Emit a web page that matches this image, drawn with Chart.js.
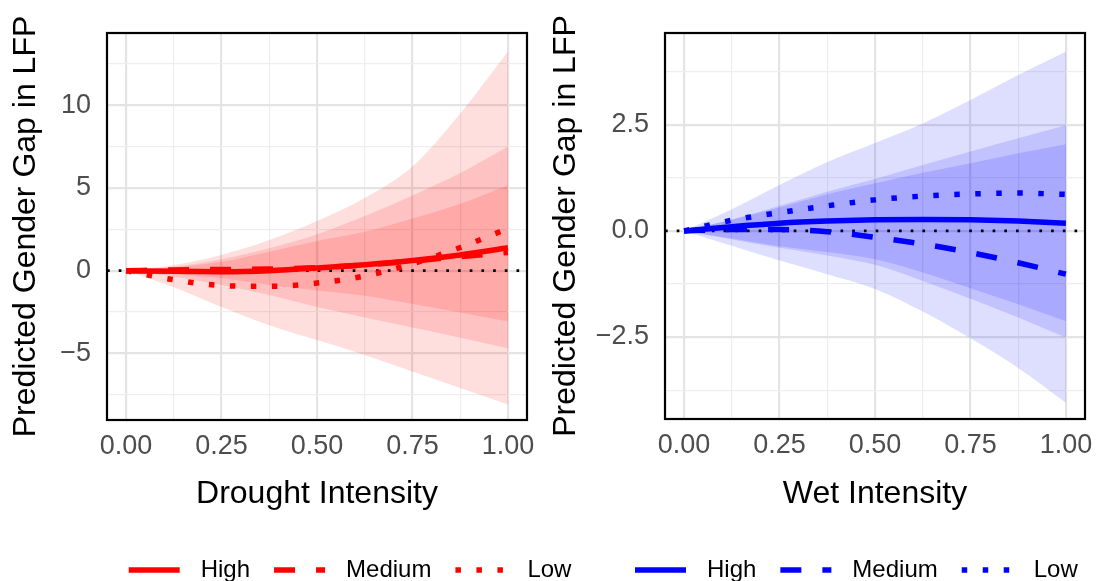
<!DOCTYPE html>
<html>
<head>
<meta charset="utf-8">
<script src="https://cdn.jsdelivr.net/npm/chart.js@4/dist/chart.umd.min.js"></script>
<style>
  html, body { margin: 0; padding: 0; background: #fff; }
  #wrap { position: relative; width: 1096px; height: 581px; overflow: hidden; }
  .panel { position: absolute; top: 0; height: 581px; }
</style>
</head>
<body>
<div id="wrap">
  <!-- left canvas is a bit wider so its legend can run past the middle -->
  <div class="panel" style="left:0;width:600px"><canvas id="drought" width="600" height="581"></canvas></div>
  <div class="panel" style="left:548px;width:548px"><canvas id="wet" width="548" height="581"></canvas></div>
</div>
<script>
// x positions shared by both panels
const xs = [0, 0.125, 0.25, 0.375, 0.5, 0.625, 0.75, 0.875, 1];
const xLimits = [-0.05, 1.05];
const xGrid = [0, 0.125, 0.25, 0.375, 0.5, 0.625, 0.75, 0.875, 1];
const xMajor = [0, 0.25, 0.5, 0.75, 1];
const xLabels = ["0.00", "0.25", "0.50", "0.75", "1.00"];

// Drought panel - predictions
const dHigh = [0, -0.04, -0.06, 0.0, 0.16, 0.36, 0.61, 0.95, 1.38];
const dMedium = [0, 0.04, 0.07, 0.1, 0.18, 0.35, 0.58, 0.85, 1.1];
const dLow = [0, -0.55, -0.9, -0.95, -0.75, -0.32, 0.42, 1.4, 2.55];
// Drought panel - confidence bands (outer / middle / inner)
const dOuterUp = [0, 0.34, 0.95, 1.85, 3.0, 4.4, 6.3, 9.5, 13.25];
const dOuterLo = [0, -1.0, -2.2, -3.3, -4.2, -5.1, -6.1, -7.1, -8.1];
const dMidUp = [0, 0.24, 0.69, 1.35, 2.2, 3.3, 4.55, 5.9, 7.5];
const dMidLo = [0, -0.36, -0.87, -1.47, -2.2, -2.83, -3.44, -4.05, -4.7];
const dInnerUp = [0, 0.2, 0.54, 1.15, 1.8, 2.35, 3.15, 4.05, 5.15];
const dInnerLo = [0, -0.2, -0.46, -0.87, -1.2, -1.52, -2.02, -2.53, -3.08];
const dYLimits = [-9.03, 14.37];
const dYGrid = [-7.5, -5, -2.5, 0, 2.5, 5, 7.5, 10, 12.5];
const dYMajor = [-5, 0, 5, 10];
const dYLabels = ["\u22125", "0", "5", "10"];

// Wet panel - predictions
const wHigh = [0, 0.1, 0.18, 0.23, 0.26, 0.27, 0.26, 0.23, 0.18];
const wMedium = [0, 0.03, 0.03, -0.02, -0.15, -0.31, -0.51, -0.75, -1.02];
const wLow = [0, 0.25, 0.43, 0.59, 0.73, 0.82, 0.87, 0.89, 0.86];
// Wet panel - confidence bands
const wOuterUp = [0, 0.51, 1.08, 1.62, 2.07, 2.53, 3.08, 3.67, 4.22];
const wOuterLo = [0, -0.35, -0.7, -1.02, -1.37, -1.9, -2.53, -3.23, -4.05];
const wMidUp = [0, 0.27, 0.59, 0.92, 1.22, 1.55, 1.87, 2.18, 2.49];
const wMidLo = [0, -0.2, -0.4, -0.58, -0.8, -1.18, -1.6, -2.04, -2.51];
const wInnerUp = [0, 0.26, 0.55, 0.86, 1.12, 1.37, 1.59, 1.83, 2.04];
const wInnerLo = [0, -0.18, -0.36, -0.5, -0.67, -0.98, -1.35, -1.73, -2.13];
const wYLimits = [-4.43, 4.66];
const wYGrid = [-3.75, -2.5, -1.25, 0, 1.25, 2.5, 3.75];
const wYMajor = [-2.5, 0, 2.5];
const wYLabels = ["\u22122.5", "0.0", "2.5"];

const seriesNames = ["High", "Medium", "Low"];

const FONT = "'Liberation Sans', Arial, sans-serif";
const pts = (ys) => xs.map((x, i) => ({ x: x, y: ys[i] }));

function bandSets(up, lo, fillColor) {
  return [
    { data: pts(up), borderWidth: 0, pointRadius: 0, fill: "+1", backgroundColor: fillColor, order: 3 },
    { data: pts(lo), borderWidth: 0, pointRadius: 0, fill: false, order: 3 },
  ];
}

function lineSet(label, ys, color, dash) {
  return {
    label: label,
    data: pts(ys),
    borderColor: color,
    borderWidth: 5.5,
    borderDash: dash,
    borderCapStyle: "butt",
    pointRadius: 0,
    fill: false,
    order: 1,
  };
}

// outer frame of the panel (ggplot panel.border)
const frame = {
  id: "frame",
  afterDraw(chart) {
    const a = chart.chartArea;
    const ctx = chart.ctx;
    ctx.save();
    ctx.strokeStyle = "#000";
    ctx.lineWidth = 2.2;
    ctx.strokeRect(a.left, a.top, a.right - a.left, a.bottom - a.top);
    ctx.restore();
  },
};

// legend drawn from the line datasets
const lineLegend = {
  id: "lineLegend",
  afterDraw(chart, args, opts) {
    const ctx = chart.ctx;
    let x = opts.x;
    const y = opts.y;
    ctx.save();
    ctx.font = "24px " + FONT;
    ctx.textBaseline = "middle";
    chart.data.datasets.filter((d) => d.label).forEach((d) => {
      ctx.beginPath();
      ctx.strokeStyle = d.borderColor;
      ctx.lineWidth = d.borderWidth;
      ctx.lineCap = "butt";
      ctx.setLineDash(d.borderDash || []);
      ctx.moveTo(x, y);
      ctx.lineTo(x + 51, y);
      ctx.stroke();
      ctx.setLineDash([]);
      ctx.fillStyle = "#000";
      ctx.fillText(d.label, x + 72, y);
      x += 72 + ctx.measureText(d.label).width + 24;
    });
    ctx.restore();
  },
};

function makeChart(id, p) {
  const datasets = [
    ...bandSets(p.outer[0], p.outer[1], p.fill),
    ...bandSets(p.mid[0], p.mid[1], p.fill),
    ...bandSets(p.inner[0], p.inner[1], p.fill),
    {
      data: [{ x: xLimits[0], y: 0 }, { x: xLimits[1], y: 0 }],
      borderColor: "#000",
      borderWidth: 2.7,
      borderDash: [2.7, 9],
      pointRadius: 0,
      fill: false,
      order: 2,
    },
    lineSet(seriesNames[0], p.lines[0], p.color, []),
    lineSet(seriesNames[1], p.lines[1], p.color, [21, 21]),
    lineSet(seriesNames[2], p.lines[2], p.color, [5.5, 15.5]),
  ];

  return new Chart(document.getElementById(id), {
    type: "line",
    data: { datasets: datasets },
    plugins: [frame, lineLegend],
    options: {
      responsive: false,
      animation: false,
      elements: { line: { cubicInterpolationMode: "monotone" } },
      layout: { padding: { left: 0, right: p.padRight, top: 33, bottom: 0 } },
      plugins: {
        legend: { display: false },
        tooltip: { enabled: false },
        lineLegend: { x: p.legendX, y: 570 },
      },
      scales: {
        x: {
          type: "linear",
          min: xLimits[0],
          max: xLimits[1],
          afterBuildTicks: (s) => { s.ticks = xGrid.map((v) => ({ value: v })); },
          afterFit: (s) => {
            s.height = p.xAxisHeight;
            // keep the plot edges fixed, labels may overhang
            s.paddingLeft = 0;
            s.paddingRight = 0;
          },
          ticks: {
            autoSkip: false,
            maxRotation: 0,
            padding: 10,
            color: "#4D4D4D",
            font: { family: FONT, size: 27 },
            callback: (v) => {
              const i = xMajor.indexOf(v);
              return i >= 0 ? xLabels[i] : "";
            },
          },
          grid: {
            drawTicks: false,
            color: (c) => (xMajor.includes(c.tick.value) ? "#e4e4e4" : "#eeeeee"),
            lineWidth: (c) => (xMajor.includes(c.tick.value) ? 2.2 : 1.2),
          },
          border: { display: false },
          title: {
            display: true,
            text: p.xTitle,
            color: "#000",
            font: { family: FONT, size: 32, lineHeight: 1 },
            padding: { top: 0, bottom: 71 },
          },
        },
        y: {
          type: "linear",
          min: p.yLimits[0],
          max: p.yLimits[1],
          afterBuildTicks: (s) => { s.ticks = p.yGrid.map((v) => ({ value: v })); },
          afterFit: (s) => {
            s.width = p.yAxisWidth;
            s.paddingTop = 0;
            s.paddingBottom = 0;
          },
          ticks: {
            autoSkip: false,
            padding: 16,
            color: "#4D4D4D",
            font: { family: FONT, size: 27 },
            callback: (v) => {
              const i = p.yMajor.indexOf(v);
              return i >= 0 ? p.yLabels[i] : "";
            },
          },
          grid: {
            drawTicks: false,
            color: (c) => (p.yMajor.includes(c.tick.value) ? "#e4e4e4" : "#eeeeee"),
            lineWidth: (c) => (p.yMajor.includes(c.tick.value) ? 2.2 : 1.2),
          },
          border: { display: false },
          title: {
            display: true,
            text: "Predicted Gender Gap in LFP",
            color: "#000",
            font: { family: FONT, size: 32, lineHeight: 1 },
            padding: { top: p.yTitlePad, bottom: 0 },
          },
        },
      },
    },
  });
}

makeChart("drought", {
  lines: [dHigh, dMedium, dLow],
  outer: [dOuterUp, dOuterLo],
  mid: [dMidUp, dMidLo],
  inner: [dInnerUp, dInnerLo],
  color: "#FF0000",
  fill: "rgba(255, 0, 0, 0.13)",
  yLimits: dYLimits,
  yGrid: dYGrid,
  yMajor: dYMajor,
  yLabels: dYLabels,
  xTitle: "Drought Intensity",
  yAxisWidth: 107,
  yTitlePad: 10,
  padRight: 73,
  xAxisHeight: 161,
  legendX: 128.7,
});

makeChart("wet", {
  lines: [wHigh, wMedium, wLow],
  outer: [wOuterUp, wOuterLo],
  mid: [wMidUp, wMidLo],
  inner: [wInnerUp, wInnerLo],
  color: "#0000FF",
  fill: "rgba(0, 0, 255, 0.13)",
  yLimits: wYLimits,
  yGrid: wYGrid,
  yMajor: wYMajor,
  yLabels: wYLabels,
  xTitle: "Wet Intensity",
  yAxisWidth: 117,
  yTitlePad: 2,
  padRight: 11,
  xAxisHeight: 162,
  legendX: 87,
});
</script>
</body>
</html>
